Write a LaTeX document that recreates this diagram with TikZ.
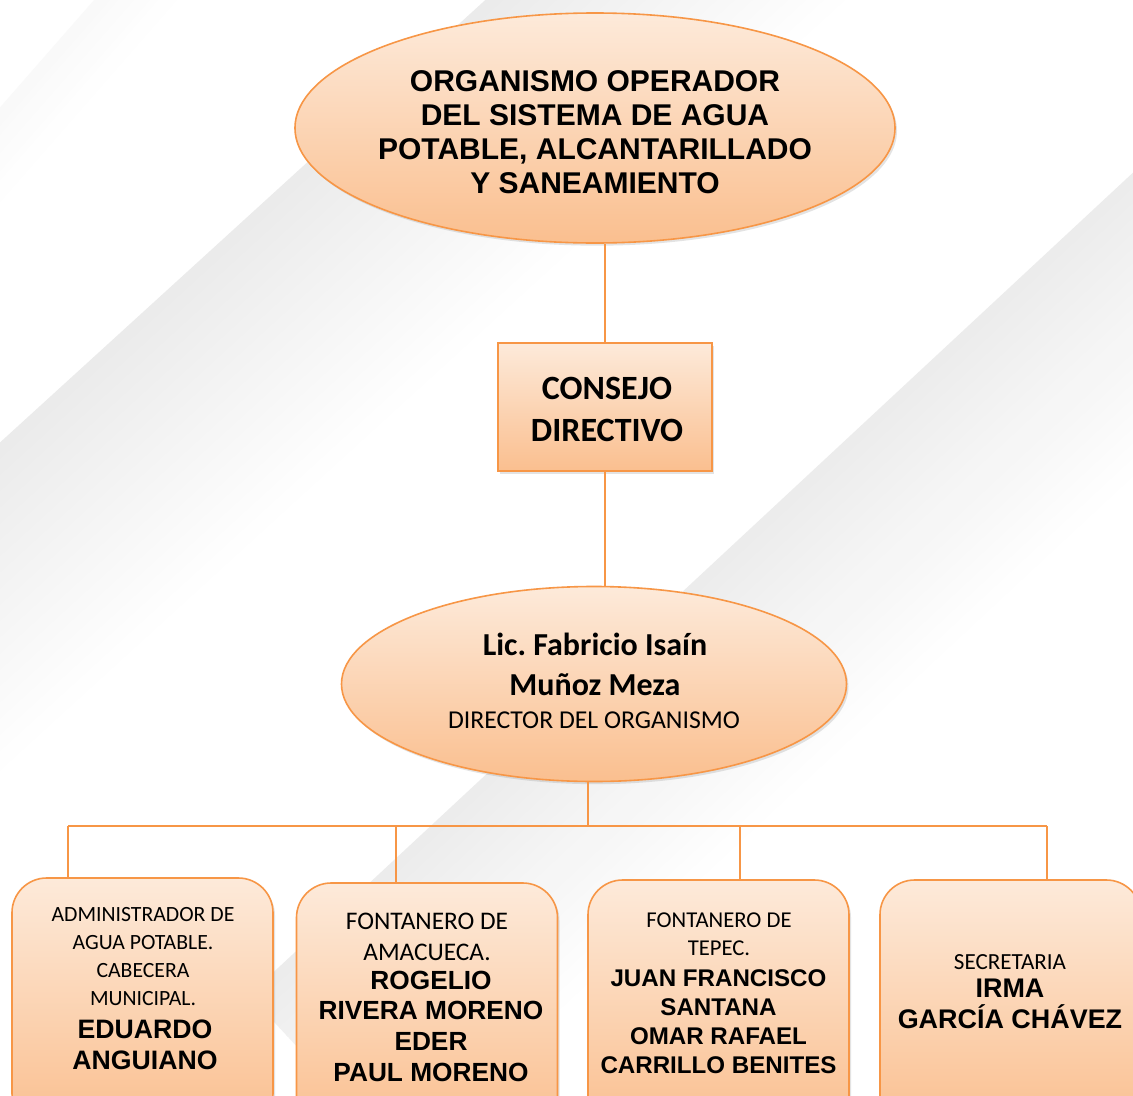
\documentclass[tikz,border=0pt]{standalone}
\usepackage{fontspec}
\newfontfamily\arialfont{Liberation Sans}
\newfontfamily\calibrifont{Carlito}
\usetikzlibrary{shapes.geometric,shadows}
\definecolor{orgorange}{HTML}{F79646}
\definecolor{peachtop}{HTML}{FDEADA}
\definecolor{peachbot}{HTML}{FABF8F}
\tikzset{
  orgline/.style={draw=orgorange,line width=1.5pt},
  peach/.style={draw=orgorange,line width=1.2pt,top color=peachtop,bottom color=peachbot,
    drop shadow={opacity=.22,shadow xshift=1.5pt,shadow yshift=-2pt}},
  oval/.style={peach,ellipse,inner sep=0pt},
  plainbox/.style={peach,rectangle,inner sep=0pt},
  roundbox/.style={peach,rectangle,rounded corners=26pt,inner sep=0pt,
    minimum width=195.75pt,minimum height=187.5pt},
  lbl/.style={align=center,inner sep=0pt,text=black},
}
\begin{document}
\begin{tikzpicture}[x=0.75pt,y=-0.75pt]
\useasboundingbox (0,0) rectangle (1133,1096);
\clip (0,0) rectangle (1133,1096);
\fill[white] (0,0) rectangle (1133,1096);
% grey bands
\foreach \k [evaluate=\k as \a using {12*\k}, evaluate=\k as \g using {8-0.4*\k}] in {0,...,19}
  \fill[black!\g] ({-300+0.674*\a},{716+0.739*\a}) -- ({799+0.674*\a},{-286+0.739*\a})
    -- ({799+0.674*(\a+14)},{-286+0.739*(\a+14)}) -- ({-300+0.674*(\a+14)},{716+0.739*(\a+14)}) -- cycle;
\foreach \k [evaluate=\k as \a using {11*\k}, evaluate=\k as \g using {7.5-0.375*\k}] in {0,...,19}
  \fill[black!\g] ({249+0.681*\a},{995+0.732*\a}) -- ({1353+0.681*\a},{-32+0.732*\a})
    -- ({1353+0.681*(\a+13)},{-32+0.732*(\a+13)}) -- ({249+0.681*(\a+13)},{995+0.732*(\a+13)}) -- cycle;
\foreach \k [evaluate=\k as \a using {6*\k}, evaluate=\k as \g using {2.5-0.25*\k}] in {0,...,9}
  \fill[black!\g] ({-60+0.752*\a},{176+0.659*\a}) -- ({200+0.752*\a},{-121+0.659*\a})
    -- ({200+0.752*(\a+8)},{-121+0.659*(\a+8)}) -- ({-60+0.752*(\a+8)},{176+0.659*(\a+8)}) -- cycle;

% shapes
\node[oval,minimum width=450pt,minimum height=172.5pt] (org) at (595,128) {};
\node[plainbox,minimum width=160.5pt,minimum height=96pt] (consejo) at (605,407) {};
\node[oval,minimum width=378.75pt,minimum height=146.25pt] (dir) at (594,684) {};
\node[roundbox] (box1) at (142.5,1003) {};
\node[roundbox] (box2) at (427,1008) {};
\node[roundbox] (box3) at (718.5,1005) {};
\node[roundbox] (box4) at (1010.5,1005) {};

% connectors
\coordinate (hub) at (588,826);
\coordinate (b1) at (68,826);
\coordinate (b2) at (396,826);
\coordinate (b3) at (740,826);
\coordinate (b4) at (1047,826);
\draw[orgline] (consejo.north) -- (consejo.north |- org.south);
\draw[orgline] (consejo.south) -- (consejo.south |- dir.north);
\draw[orgline] (dir.south -| hub) -- (hub);
\draw[orgline] (b1) -- (b4);
\foreach \i in {1,...,4}
  \draw[orgline] (b\i) -- (b\i |- box\i.north);

% texts
\node[lbl,font=\arialfont\bfseries\fontsize{22.5}{25.5}\selectfont] (orgtxt) at (595,132)
  {ORGANISMO OPERADOR\\DEL SISTEMA DE AGUA\\POTABLE, ALCANTARILLADO\\Y SANEAMIENTO};
\node[lbl,font=\calibrifont\bfseries\fontsize{25.5}{31.5}\selectfont] (consejotxt) at (607,409)
  {CONSEJO\\DIRECTIVO};
\node[lbl,font=\calibrifont\bfseries\fontsize{24}{30}\selectfont] (dirname) at (595,664)
  {Lic.\ Fabricio Isaín\\Muñoz Meza};
\node[lbl,font=\calibrifont\fontsize{19.3}{23}\selectfont] (dirrole) at (594,720)
  {DIRECTOR DEL ORGANISMO};

\node[lbl,font=\calibrifont\fontsize{16.3}{21}\selectfont] (role1) at (143,957)
  {ADMINISTRADOR DE\\AGUA POTABLE.\\CABECERA\\MUNICIPAL.};
\node[lbl,font=\arialfont\bfseries\fontsize{20}{23.25}\selectfont] (name1) at (145,1044.5)
  {EDUARDO\\ANGUIANO};
\node[lbl,font=\calibrifont\fontsize{19}{23.25}\selectfont] (role2) at (427,936.5)
  {FONTANERO DE\\AMACUECA.};
\node[lbl,font=\arialfont\bfseries\fontsize{19.7}{23}\selectfont] (name2) at (431,1026)
  {ROGELIO\\RIVERA MORENO\\EDER\\PAUL MORENO};
\node[lbl,font=\calibrifont\fontsize{17}{21}\selectfont] (role3) at (719,934)
  {FONTANERO DE\\TEPEC.};
\node[lbl,font=\arialfont\bfseries\fontsize{18.1}{21.75}\selectfont] (name3) at (718.5,1021.5)
  {JUAN FRANCISCO\\SANTANA\\OMAR RAFAEL\\CARRILLO BENITES};
\node[lbl,font=\calibrifont\fontsize{17.3}{21}\selectfont] (role4) at (1010,962)
  {SECRETARIA};
\node[lbl,font=\arialfont\bfseries\fontsize{20.2}{23.25}\selectfont] (name4) at (1010,1003.5)
  {IRMA\\GARCÍA CHÁVEZ};
\end{tikzpicture}
\end{document}
